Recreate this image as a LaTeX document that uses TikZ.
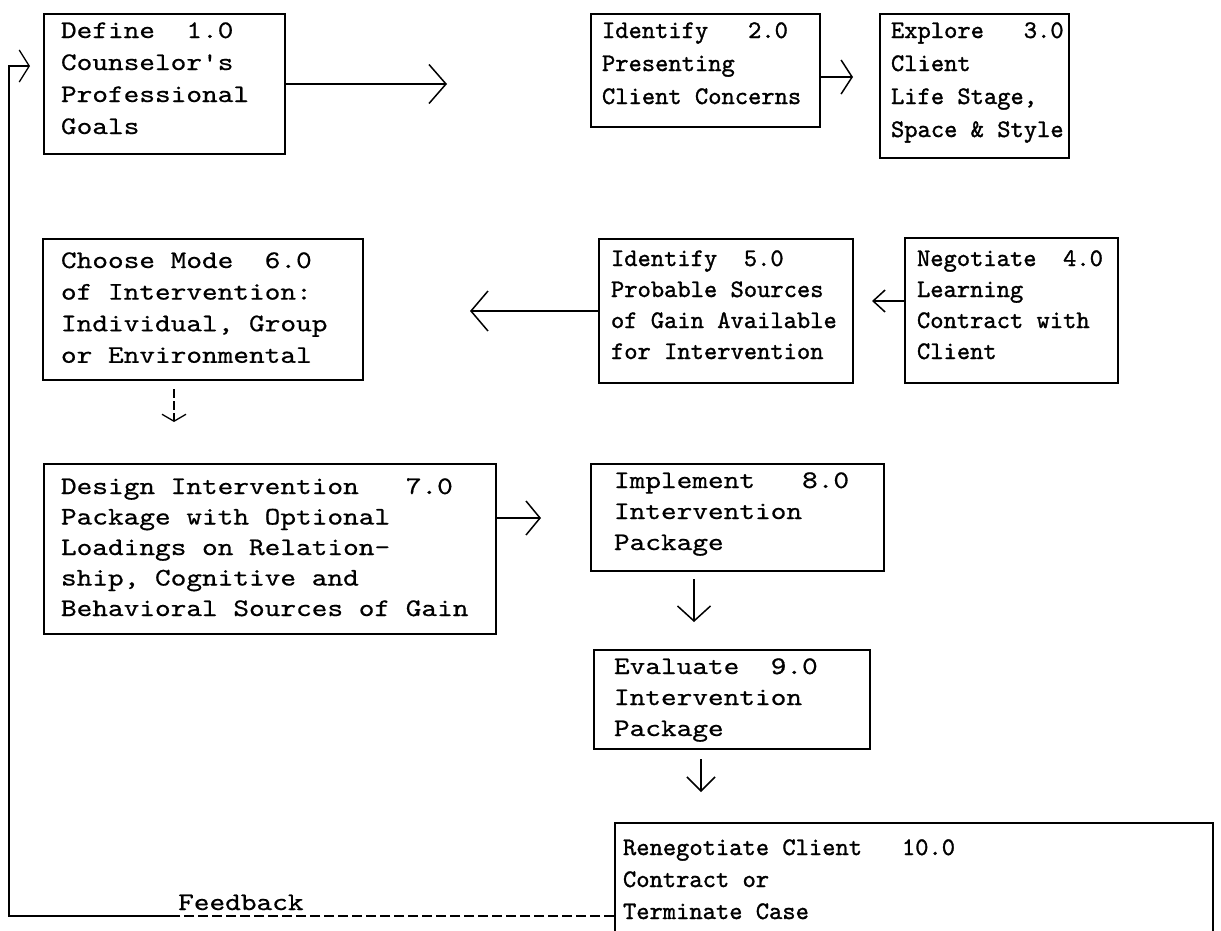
\documentclass[tikz,border=0pt]{standalone}
\usepackage{fontspec}
\usetikzlibrary{arrows.meta,calc}
\newfontfamily\tnarrow{lmmono10-regular.otf}[FakeBold=1.2]
\newfontfamily\twide{lmmono10-regular.otf}[FakeStretch=1.18,FakeBold=0.6]
% \bxt{font}{width}{height}{left}{first baseline}{skip}{text}
\newcommand{\bxt}[7]{\parbox[c][#3pt][t]{#2pt}{#1\fontsize{25.3}{#6}\selectfont\raggedright\leftskip=#4pt\relax\rule{0pt}{#5pt}#7}}
\tikzset{
  box/.style={draw, line width=2pt, inner sep=0pt, anchor=north west},
  con/.style={line width=1.6pt},
  fbl/.style={line width=1.3pt},
}
\begin{document}
\begin{tikzpicture}[x=1pt,y=-1pt]
\useasboundingbox (0,0) rectangle (1221,930);
% boxes
\node[box] (b1) at (43,13) {\bxt{\twide}{241}{140}{17}{24}{32}{Define~~1.0\\Counselor's\\Professional\\Goals}};
\node[box] (b2) at (590,13) {\bxt{\tnarrow}{229}{113}{11}{24}{33}{Identify~~~2.0\\Presenting\\Client Concerns}};
\node[box] (b3) at (879,13) {\bxt{\tnarrow}{189}{144}{11}{24}{33}{Explore~~~3.0\\Client\\Life Stage,\\Space \& Style}};
\node[box] (b4) at (904,237) {\bxt{\tnarrow}{213}{145}{12}{28}{31}{Negotiate~~4.0\\Learning\\Contract with\\Client}};
\node[box] (b5) at (598,238) {\bxt{\tnarrow}{254}{144}{12}{27}{31}{Identify~~5.0\\Probable Sources\\of Gain Available\\for Intervention}};
\node[box] (b6) at (42,238) {\bxt{\twide}{320}{141}{18}{29}{31.6}{Choose Mode~~6.0\\of Intervention:\\Individual, Group\\or Environmental}};
\node[box] (b7) at (43,463) {\bxt{\twide}{452}{170}{17}{30}{30.5}{Design Intervention~~~7.0\\Package with Optional\\Loadings on Relation-\\ship, Cognitive and\\Behavioral Sources of Gain}};
\node[box] (b8) at (590,463) {\bxt{\twide}{293}{107}{23}{24}{31}{Implement~~~8.0\\Intervention\\Package}};
\node[box] (b9) at (593,649) {\bxt{\twide}{276}{99}{20}{24}{31}{Evaluate~~9.0\\Intervention\\Package}};
\node[box] (b10) at (614,822) {\bxt{\tnarrow}{598}{125}{8}{32}{32}{Renegotiate Client~~~10.0\\Contract or\\Terminate Case}};
% connectors
\draw[con, -{Straight Barb[length=17pt,width=39pt,line width=1.5pt]}, shorten >=143pt] (b1.east) -- (b1.east -| b2.west);
\draw[con, -{Straight Barb[length=11pt,width=34pt,line width=1.5pt]}, shorten >=26pt] ($(b2.east)+(0,6.5)$) coordinate (a23) -- (a23 -| b3.west);
\draw[con, -{Straight Barb[length=12pt,width=22pt,line width=1.5pt]}, shorten >=18pt] ($(b4.west)+(0,-9.5)$) coordinate (a45) -- (a45 -| b5.east);
\draw[con, -{Straight Barb[length=17pt,width=40pt,line width=1.5pt]}, shorten >=106pt] (b5.west) -- (b5.west -| b6.east);
\draw[con, dash pattern=on 9pt off 3pt, -{Straight Barb[length=7pt,width=24pt,line width=1.3pt]}, shorten <=8pt, shorten >=41pt] ($(b6.south)+(-29,0)$) coordinate (a67) -- (a67 |- b7.north);
\draw[con, -{Straight Barb[length=14pt,width=34pt,line width=1.5pt]}, shorten >=49pt] ($(b7.east)+(0,-31)$) coordinate (a78) -- (a78 -| b8.west);
\draw[con, -{Straight Barb[length=15pt,width=33pt,line width=1.5pt]}, shorten <=7pt, shorten >=27pt] ($(b8.south)+(-43.5,0)$) coordinate (a89) -- (a89 |- b9.north);
\draw[con, -{Straight Barb[length=14pt,width=28pt,line width=1.5pt]}, shorten <=9pt, shorten >=30pt] ($(b9.south)+(-31,0)$) coordinate (a910) -- (a910 |- b10.north);
% feedback
\coordinate (fbA) at (b10.west |- 0,916);
\coordinate (fbB) at (170,916);
\coordinate (fbC) at (9,916);
\draw[fbl, dash pattern=on 10pt off 4pt] (fbA) -- (fbB);
\draw[fbl, -{Straight Barb[length=10pt,width=32pt,line width=1.3pt]}, shorten >=13pt] (fbB) -- (fbC) |- (b1.west |- 0,66);
\node[anchor=base west, inner sep=0pt] (fbt) at (178,910) {\twide\fontsize{25.3}{30}\selectfont Feedback};
\end{tikzpicture}
\end{document}
